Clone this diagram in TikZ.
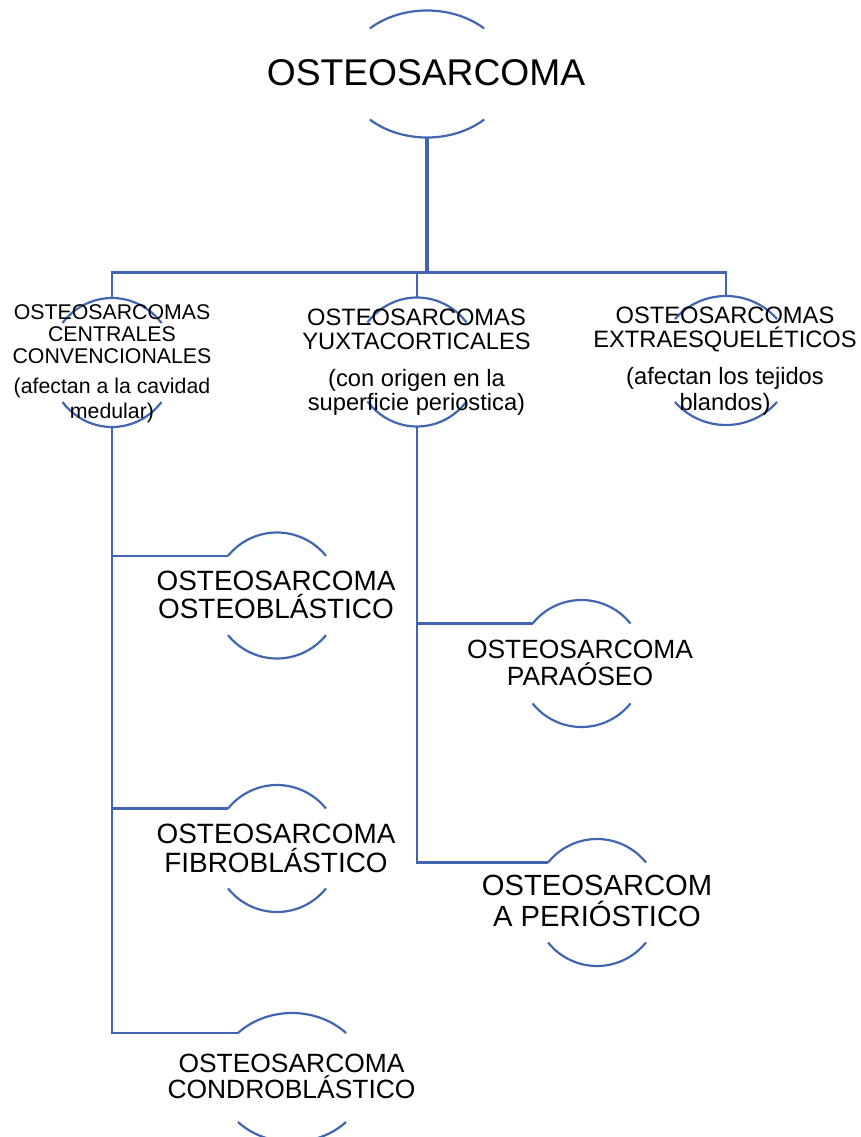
\documentclass[tikz,border=0pt]{standalone}
\usepackage{fontspec}
\setmainfont{Liberation Sans}
\definecolor{lineblue}{RGB}{66,101,176}
\tikzset{
  conn/.style={draw=lineblue, line width=2.1pt},
  rootconn/.style={draw=lineblue, line width=3.2pt},
  bracket/.style={draw=lineblue, line width=2.2pt},
  txt/.style={inner sep=0pt, align=center, anchor=base, text=black},
}
\newcommand{\arcpair}[6]{% name cx cy rx ry theta
  \pgfmathsetmacro\arcend{180-#6}
  \coordinate (#1-c) at (#2,#3);
  \coordinate (#1-top) at ({#2},{#3-#5});
  \coordinate (#1-bot) at ({#2},{#3+#5});
  \coordinate (#1-tl) at ({#2-#4*cos(#6)},{#3-#5*sin(#6)});
  \draw[bracket] plot[domain=#6:\arcend, samples=40, smooth] ({#2+#4*cos(\x)},{#3-#5*sin(\x)});
  \draw[bracket] plot[domain=#6:\arcend, samples=40, smooth] ({#2+#4*cos(\x)},{#3+#5*sin(\x)});
}
\begin{document}
\begin{tikzpicture}[x=1pt,y=-1pt]
\useasboundingbox (0,0) rectangle (861,1137);
% bracket shapes
\arcpair{root}{427}{74}{82}{63.5}{45.8}
\arcpair{cen}{112}{362.5}{62.6}{64.5}{37.7}
\arcpair{yux}{417}{362}{62.6}{64.5}{37.7}
\arcpair{ext}{726}{360.5}{66.6}{64.5}{40}
\arcpair{ob}{277}{595.5}{63}{63}{39}
\arcpair{par}{581.5}{663.5}{63}{63.5}{39}
\arcpair{fib}{277}{848.5}{63}{63.5}{39}
\arcpair{per}{597}{902.5}{63}{63.5}{39}
\arcpair{con}{292}{1077.5}{74.6}{64.5}{43.6}
% texts (anchor base = baseline of the last line)
\node[txt, font=\fontsize{37.2}{44}\selectfont] (root) at (426,86) {OSTEOSARCOMA};
\node[txt, font=\fontsize{21.3}{21.7}\selectfont] (cen) at (112,418.3)
  {OSTEOSARCOMAS\\CENTRALES\\CONVENCIONALES\\[8.3pt](afectan a la cavidad\\[3.3pt]medular)};
\node[txt, font=\fontsize{23.7}{24}\selectfont] (yux) at (416.5,410.5)
  {OSTEOSARCOMAS\\YUXTACORTICALES\\[13pt](con origen en la\\superficie periostica)};
\node[txt, font=\fontsize{23.7}{24}\selectfont] (ext) at (725,410)
  {OSTEOSARCOMAS\\EXTRAESQUELÉTICOS\\[13pt](afectan los tejidos\\[2pt]blandos)};
\node[txt, font=\fontsize{27.9}{28}\selectfont] (ob) at (276,618) {OSTEOSARCOMA\\OSTEOBLÁSTICO};
\node[txt, font=\fontsize{26.4}{27}\selectfont] (par) at (580,685) {OSTEOSARCOMA\\PARAÓSEO};
\node[txt, font=\fontsize{27.9}{29}\selectfont] (fib) at (276,872) {OSTEOSARCOMA\\FIBROBLÁSTICO};
\node[txt, font=\fontsize{29.2}{31}\selectfont] (per) at (597,926) {OSTEOSARCOM\\A PERIÓSTICO};
\node[txt, font=\fontsize{26.4}{26}\selectfont] (con) at (291.5,1098) {OSTEOSARCOMA\\CONDROBLÁSTICO};
% connectors
\coordinate (bus) at (427,272.5);
\draw[rootconn] (root-bot) -- (bus);
\draw[conn] (cen-top) |- (bus) -| (ext-top);
\draw[conn] (yux-top) -- (yux-top |- bus);
\draw[conn] (cen-bot) |- (con-tl);
\draw[conn] (cen-bot) |- (ob-tl);
\draw[conn] (cen-bot) |- (fib-tl);
\draw[conn] (yux-bot) |- (per-tl);
\draw[conn] (yux-bot) |- (par-tl);
\end{tikzpicture}
\end{document}
